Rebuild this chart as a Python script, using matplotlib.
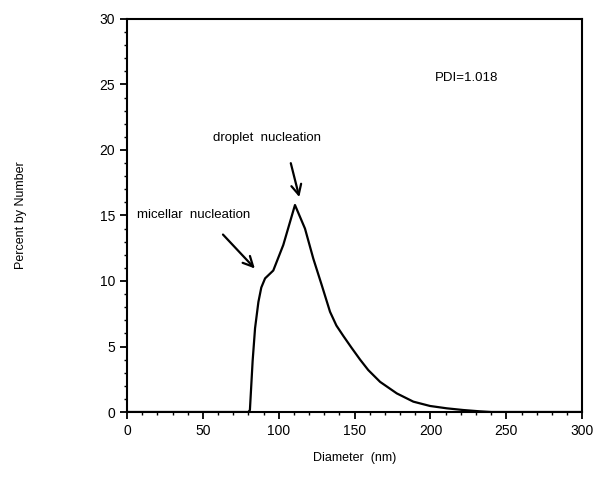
import numpy as np
import matplotlib.pyplot as plt
from matplotlib.ticker import MultipleLocator

# size distribution
diameter = [0, 80, 81, 82.8, 84.4, 86.6, 88.5, 91, 96.4, 103, 110.7, 117.3, 122.8,
            128.3, 133.8, 138, 142.6, 148, 153.6, 159, 166.8, 177.8, 188.7, 199.7,
            210.8, 221.7, 232.7, 240, 300]
percent = [0, 0, 0.15, 3.9, 6.4, 8.4, 9.5, 10.2, 10.8, 12.75, 15.8, 14.0, 11.7,
           9.7, 7.65, 6.6, 5.8, 4.9, 4.0, 3.2, 2.3, 1.42, 0.79, 0.46,
           0.28, 0.15, 0.05, 0, 0]

plt.rcParams['font.family'] = ['Liberation Sans', 'DejaVu Sans']

fig = plt.figure(figsize=(5.99, 4.87), dpi=100)
ax = fig.add_axes([0.212, 0.154, 0.760, 0.807])

ax.plot(diameter, percent, 'k-', lw=1.6)

ax.set_xlim(0, 300)
ax.set_ylim(0, 30)
ax.xaxis.set_major_locator(MultipleLocator(50))
ax.xaxis.set_minor_locator(MultipleLocator(10))
ax.yaxis.set_major_locator(MultipleLocator(5))
ax.yaxis.set_minor_locator(MultipleLocator(1))
ax.tick_params(which='major', direction='out', length=5, width=1.3, labelsize=10)
ax.tick_params(which='minor', direction='out', length=2.5, width=1.0)
for s in ax.spines.values():
    s.set_linewidth(1.5)

ax.set_xlabel('Diameter  (nm)', fontsize=9, labelpad=10)
ax.set_ylabel('Percent by Number', fontsize=9, labelpad=52)

"annotations"
ax.text(203, 25.5, 'PDI=1.018', fontsize=9.5, va='center')
ax.text(56.5, 20.9, 'droplet  nucleation', fontsize=9.5, va='center')
ax.text(6.5, 15.0, 'micellar  nucleation', fontsize=9.5, va='center')
ax.annotate('', xy=(114, 16.2), xytext=(107.5, 19.2),
            arrowprops=dict(arrowstyle='->', lw=1.6, color='k', mutation_scale=18))
ax.annotate('', xy=(85.5, 10.8), xytext=(62, 13.7),
            arrowprops=dict(arrowstyle='->', lw=1.6, color='k', mutation_scale=18))

plt.savefig('out.png')
